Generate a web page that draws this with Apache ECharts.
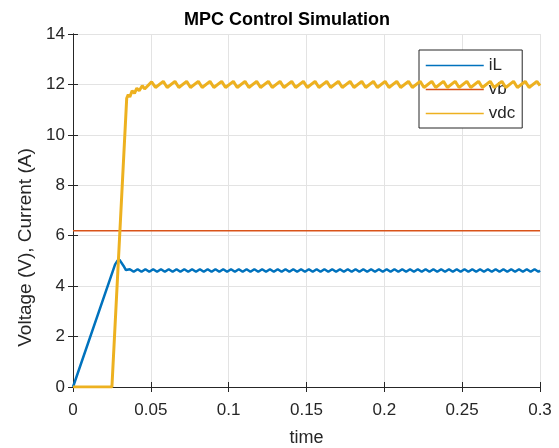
<!DOCTYPE html>
<html>
<head>
<meta charset="utf-8">
<script src="https://cdn.jsdelivr.net/npm/echarts@6/dist/echarts.min.js"></script>
<style>
html,body{margin:0;padding:0;background:#fff;}
#chart{width:559px;height:448px;}
</style>
</head>
<body>
<div id="chart"></div>
<script>
const titleText = 'MPC Control Simulation';
const xName = 'time';
const yName = 'Voltage (V), Current (A)';
const seriesNames = ['iL', 'vb', 'vdc'];
const xTickLabels = ['0', '0.05', '0.1', '0.15', '0.2', '0.25', '0.3'];
const yTickLabels = ['0', '2', '4', '6', '8', '10', '12', '14'];

const iLData = [[0,0],[0.027,4.85],[0.0285,5.0],[0.0298,5.05],[0.031,5.0],[0.0325,4.8],[0.034,4.64],
[0.0365,4.67],[0.039,4.57],[0.0415,4.67],[0.044,4.57],[0.0465,4.67],[0.049,4.57],[0.0515,4.67],[0.054,4.57],
[0.0565,4.67],[0.059,4.57],[0.0615,4.67],[0.064,4.57],[0.0665,4.67],[0.069,4.57],[0.0715,4.67],[0.074,4.57],
[0.0765,4.67],[0.079,4.57],[0.0815,4.67],[0.084,4.57],[0.0865,4.67],[0.089,4.57],[0.0915,4.67],[0.094,4.57],
[0.0965,4.67],[0.099,4.57],[0.1015,4.67],[0.104,4.57],[0.1065,4.67],[0.109,4.57],[0.1115,4.67],[0.114,4.57],
[0.1165,4.67],[0.119,4.57],[0.1215,4.67],[0.124,4.57],[0.1265,4.67],[0.129,4.57],[0.1315,4.67],[0.134,4.57],
[0.1365,4.67],[0.139,4.57],[0.1415,4.67],[0.144,4.57],[0.1465,4.67],[0.149,4.57],[0.1515,4.67],[0.154,4.57],
[0.1565,4.67],[0.159,4.57],[0.1615,4.67],[0.164,4.57],[0.1665,4.67],[0.169,4.57],[0.1715,4.67],[0.174,4.57],
[0.1765,4.67],[0.179,4.57],[0.1815,4.67],[0.184,4.57],[0.1865,4.67],[0.189,4.57],[0.1915,4.67],[0.194,4.57],
[0.1965,4.67],[0.199,4.57],[0.2015,4.67],[0.204,4.57],[0.2065,4.67],[0.209,4.57],[0.2115,4.67],[0.214,4.57],
[0.2165,4.67],[0.219,4.57],[0.2215,4.67],[0.224,4.57],[0.2265,4.67],[0.229,4.57],[0.2315,4.67],[0.234,4.57],
[0.2365,4.67],[0.239,4.57],[0.2415,4.67],[0.244,4.57],[0.2465,4.67],[0.249,4.57],[0.2515,4.67],[0.254,4.57],
[0.2565,4.67],[0.259,4.57],[0.2615,4.67],[0.264,4.57],[0.2665,4.67],[0.269,4.57],[0.2715,4.67],[0.274,4.57],
[0.2765,4.67],[0.279,4.57],[0.2815,4.67],[0.284,4.57],[0.2865,4.67],[0.289,4.57],[0.2915,4.67],[0.294,4.57],
[0.2965,4.67],[0.299,4.57],[0.3,4.62]];

const vbData = [[0,6.2],[0.3,6.2]];

const vdcData = [[0,0],[0.025,0],[0.0345,11.45],[0.0355,11.6],[0.0365,11.5],[0.038,11.75],[0.0395,11.65],
[0.041,11.85],[0.0425,11.75],[0.0445,11.95],[0.046,11.82],[0.0505,12.1],
[0.053,11.88],[0.058,12.12],[0.0605,11.88],[0.0655,12.12],[0.068,11.88],[0.073,12.12],[0.0755,11.88],[0.0805,12.12],
[0.083,11.88],[0.088,12.12],[0.0905,11.88],[0.0955,12.12],[0.098,11.88],[0.103,12.12],[0.1055,11.88],[0.1105,12.12],
[0.113,11.88],[0.118,12.12],[0.1205,11.88],[0.1255,12.12],[0.128,11.88],[0.133,12.12],[0.1355,11.88],[0.1405,12.12],
[0.143,11.88],[0.148,12.12],[0.1505,11.88],[0.1555,12.12],[0.158,11.88],[0.163,12.12],[0.1655,11.88],[0.1705,12.12],
[0.173,11.88],[0.178,12.12],[0.1805,11.88],[0.1855,12.12],[0.188,11.88],[0.193,12.12],[0.1955,11.88],[0.2005,12.12],
[0.203,11.88],[0.208,12.12],[0.2105,11.88],[0.2155,12.12],[0.218,11.88],[0.223,12.12],[0.2255,11.88],[0.2305,12.12],
[0.233,11.88],[0.238,12.12],[0.2405,11.88],[0.2455,12.12],[0.248,11.88],[0.253,12.12],[0.2555,11.88],[0.2605,12.12],
[0.263,11.88],[0.268,12.12],[0.2705,11.88],[0.2755,12.12],[0.278,11.88],[0.283,12.12],[0.2855,11.88],[0.2905,12.12],
[0.293,11.88],[0.298,12.12],[0.3,11.95]];

const colors = ['#0072BD', '#D95319', '#EDB120'];
const FONT = '"Liberation Sans", Arial, Helvetica, sans-serif';
const axisColor = '#262626';

function xLabel(v) {
  const i = Math.round(v / 0.05);
  return xTickLabels[i] !== undefined ? xTickLabels[i] : '';
}
function yLabel(v) {
  const i = Math.round(v / 2);
  return yTickLabels[i] !== undefined ? yTickLabels[i] : '';
}

const chart = echarts.init(document.getElementById('chart'), null, {renderer: 'canvas'});
const baseX = {type: 'value', min: 0, max: 0.3, interval: 0.05};
const baseY = {type: 'value', min: 0, max: 14, interval: 2};
chart.setOption({
  animation: false,
  backgroundColor: '#ffffff',
  textStyle: {fontFamily: FONT},
  title: {
    text: titleText, left: 179, top: 6,
    textStyle: {fontFamily: FONT, fontSize: 18, fontWeight: 'bold', color: '#000'}
  },
  grid: {left: 73, right: 19, top: 34, bottom: 61, containLabel: false, outerBoundsMode: 'none'},
  legend: {
    data: seriesNames,
    orient: 'vertical', left: 419, top: 50,
    backgroundColor: '#fff',
    borderColor: axisColor, borderWidth: 1,
    padding: [7, 7, 6, 6],
    itemWidth: 58, itemHeight: 14, itemGap: 7,
    itemStyle: {opacity: 0},
    lineStyle: {width: 1.5},
    textStyle: {fontFamily: FONT, fontSize: 17, color: axisColor}
  },
  xAxis: [
    Object.assign({}, baseX, {
      position: 'bottom',
      name: xName, nameLocation: 'middle', nameGap: 42,
      nameTextStyle: {fontFamily: FONT, fontSize: 18, color: axisColor},
      axisLine: {show: true, lineStyle: {color: axisColor, width: 1}},
      axisTick: {show: true, inside: true, length: 5, lineStyle: {color: axisColor}},
      axisLabel: {show: true, margin: 15, fontSize: 17, color: axisColor, fontFamily: FONT, formatter: xLabel},
      splitLine: {show: true, lineStyle: {color: '#e3e3e3', width: 1}}
    }),
    Object.assign({}, baseX, {
      position: 'top',
      axisLine: {show: true, lineStyle: {color: axisColor, width: 1}},
      axisTick: {show: true, inside: true, length: 5, lineStyle: {color: axisColor}},
      axisLabel: {show: false},
      splitLine: {show: false}
    })
  ],
  yAxis: [
    Object.assign({}, baseY, {
      position: 'left',
      name: yName, nameLocation: 'middle', nameGap: 38, nameRotate: 90,
      nameTextStyle: {fontFamily: FONT, fontSize: 19, color: axisColor, padding: [0, 74, 0, 0]},
      axisLine: {show: true, lineStyle: {color: axisColor, width: 1}},
      axisTick: {show: true, inside: true, length: 5, lineStyle: {color: axisColor}},
      axisLabel: {show: true, margin: 8, fontSize: 17, color: axisColor, fontFamily: FONT, formatter: yLabel},
      splitLine: {show: true, lineStyle: {color: '#e3e3e3', width: 1}}
    }),
    Object.assign({}, baseY, {
      position: 'right',
      axisLine: {show: true, lineStyle: {color: axisColor, width: 1}},
      axisTick: {show: true, inside: true, length: 5, lineStyle: {color: axisColor}},
      axisLabel: {show: false},
      splitLine: {show: false}
    })
  ],
  series: [
    {name: seriesNames[0], type: 'line', data: iLData, symbol: 'none', color: colors[0],
     lineStyle: {width: 2.5, color: colors[0]}, xAxisIndex: 0, yAxisIndex: 0, z: 3},
    {name: seriesNames[1], type: 'line', data: vbData, symbol: 'none', color: colors[1],
     lineStyle: {width: 1.5, color: colors[1]}, xAxisIndex: 0, yAxisIndex: 0, z: 2},
    {name: seriesNames[2], type: 'line', data: vdcData, symbol: 'none', color: colors[2],
     lineStyle: {width: 3, color: colors[2]}, xAxisIndex: 0, yAxisIndex: 0, z: 4}
  ]
});
</script>
</body>
</html>
